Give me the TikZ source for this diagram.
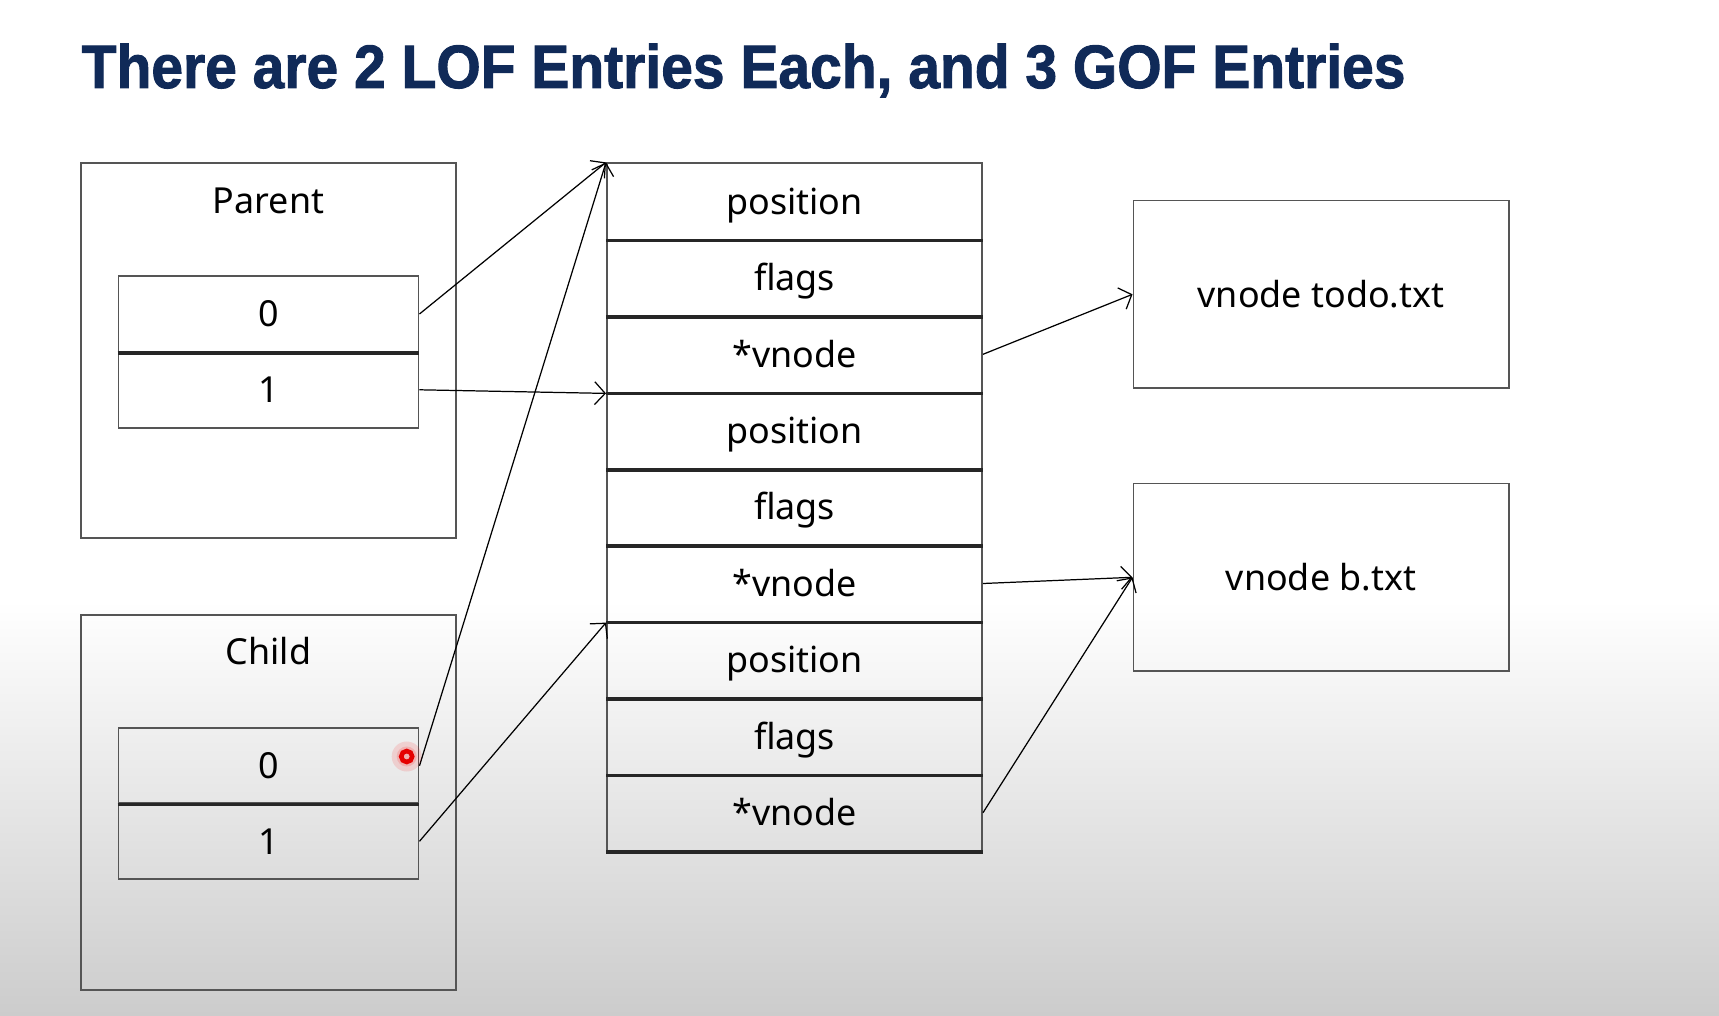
\documentclass[tikz,border=0pt]{standalone}
\usepackage{fontspec}
\setmainfont{Noto Sans}
\newfontfamily\titlefont{Liberation Sans}[BoldFeatures={FakeBold=1.6}]
\usetikzlibrary{arrows.meta}
\definecolor{titleblue}{RGB}{16,42,88}
\definecolor{boxline}{RGB}{85,85,85}
\tikzset{
  lbl/.style={inner sep=0pt,text height=7.3pt,text depth=0pt},
  box/.style={draw=boxline,line width=0.5pt,inner sep=0pt,minimum width=3.75cm,minimum height=3.75cm},
  cell/.style={lbl,draw=boxline,line width=0.5pt,minimum width=3cm,minimum height=0.76cm},
  slot/.style={lbl,draw=boxline,line width=0.5pt,minimum width=3.75cm,minimum height=0.764cm},
  target/.style={lbl,draw=boxline,line width=0.5pt,minimum width=3.75cm,minimum height=1.874cm},
  ptr/.style={line width=0.35pt,-{Straight Barb[length=3pt,width=6.5pt]}},
  divider/.style={line width=1pt,black!85},
}
\begin{document}
\begin{tikzpicture}[x=0.01cm,y=-0.01cm,font=\fontsize{10.2}{12}\selectfont]
\useasboundingbox (0,0) rectangle (1719,1016);
\fill[white] (0,0) rectangle (1719,600);
\shade[top color=white,bottom color=black!20] (0,600) rectangle (1719,1016);

% title
\node[anchor=base west,inner sep=0pt,text=titleblue] (title) at (81,88)
  {\resizebox{13.23cm}{\height}{\titlefont\bfseries\fontsize{17.4}{20}\selectfont There are 2 LOF Entries Each, and 3 GOF Entries}};

% parent / child tables
\node[box] (parent) at (268.5,350.5) {};
\node[lbl] (plabel) at (268.5,200.6) {Parent};
\node[cell] (p0) at (268.5,314) {0};
\node[cell] (p1) at (268.5,389.8) {1};
\draw[divider] (p0.south west) -- (p0.south east);

\node[box] (child) at (268.5,802.5) {};
\node[lbl] (clabel) at (268.5,652) {Child};
\node[cell] (c0) at (268.5,765.8) {0};
\node[cell] (c1) at (268.5,841.3) {1};
\draw[divider] (c0.south west) -- (c0.south east);

% file table
\foreach \t [count=\i] in {position,flags,*vnode,position,flags,*vnode,position,flags,*vnode}
  \node[slot] (m\i) at (794.5,{163.3+76.4*(\i-0.5)}) {\t};
\foreach \i in {1,...,9}
  \draw[divider] (m\i.south west) -- (m\i.south east);

% vnodes
\node[target] (todo) at (1321,294.3) {vnode todo.txt};
\node[target] (btxt) at (1321,577.3) {vnode b.txt};

% pointers
\draw[ptr] (p0.east) -- (m1.north west);
\draw[ptr] (p1.east) -- (m3.south west);
\draw[ptr] (c0.east) -- (m1.north west);
\draw[ptr] (c1.east) -- (m6.south west);
\draw[ptr] (m3.east) -- (todo.west);
\draw[ptr] (m6.east) -- (btxt.west);
\draw[ptr] (m9.east) -- (btxt.west);

% cursor mark
\fill[red,opacity=0.12] (406.7,756.5) circle (0.15cm);
\fill[red,opacity=0.15] (406.7,756.5) circle (0.1cm);
\draw[red!90!black,line width=1.3pt] (406.7,756.5) circle (0.055cm);
\end{tikzpicture}
\end{document}
